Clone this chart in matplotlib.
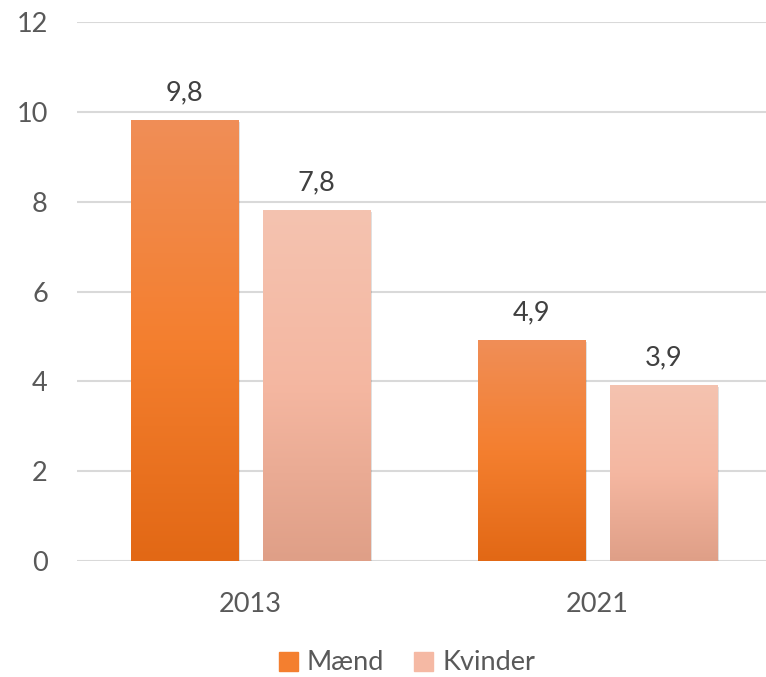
import matplotlib
matplotlib.use("Agg")
import matplotlib.pyplot as plt
import matplotlib.patheffects as pe
from matplotlib.colors import LinearSegmentedColormap
from matplotlib.patches import Rectangle
import numpy as np

categories = ["2013", "2021"]
series_names = ["Mænd", "Kvinder"]
maend = [9.8, 4.9]
kvinder = [7.8, 3.9]
labels_maend = ["9,8", "4,9"]
labels_kvinder = ["7,8", "3,9"]

plt.rcParams['font.family'] = ['Lato', 'DejaVu Sans']
FS = 19.5

fig = plt.figure(figsize=(7.66, 6.77), dpi=100)
ax = fig.add_axes([77/766, 1 - 561/677, 694/766, (561-22)/677])

cmap_m = LinearSegmentedColormap.from_list("m", ["#E26815", "#F47F2F", "#F08E57"])
cmap_k = LinearSegmentedColormap.from_list("k", ["#DF9F87", "#F5B7A1", "#F4C3B0"])
grad = np.linspace(0, 1, 256).reshape(-1, 1)

x = np.arange(len(categories))
width = 0.31
offset = 0.19

ax.set_xlim(-0.5, len(categories) - 0.5)
ax.set_ylim(0, 12)
ax.set_yticks(np.arange(0, 13, 2))
ax.yaxis.grid(True, color="#D9D9D9", linewidth=1.5)
ax.set_axisbelow(True)
for s in ax.spines.values():
    s.set_visible(False)
ax.axhline(0, color="#D9D9D9", linewidth=1.8, zorder=1)
ax.tick_params(axis="both", length=0, labelsize=FS, colors="#595959")
ax.tick_params(axis="y", pad=21)
ax.tick_params(axis="x", pad=22)
ax.set_xticks(x)
ax.set_xticklabels(categories)

def draw(vals, labs, pos, cmap, name):
    bars = ax.bar(pos, vals, width, color=cmap(0.5), label=name, zorder=2,
                  path_effects=[pe.SimplePatchShadow(offset=(1.5, -1), shadow_rgbFace="#000000", alpha=0.12),
                                pe.Normal()])
    for b, lab in zip(bars, labs):
        x0, y0 = b.get_x(), b.get_y()
        w, h = b.get_width(), b.get_height()
        ax.imshow(grad, cmap=cmap, extent=(x0, x0 + w, y0, y0 + h), origin="lower",
                  aspect="auto", zorder=3, interpolation="bilinear")
        ax.annotate(lab, (x0 + w / 2, y0 + h), xytext=(0, 11), textcoords="offset points",
                    ha="center", va="bottom", fontsize=FS, color="#404040")
    return bars

draw(maend, labels_maend, x - offset, cmap_m, series_names[0])
draw(kvinder, labels_kvinder, x + offset, cmap_k, series_names[1])
ax.set_xlim(-0.5, len(categories) - 0.5)
ax.set_ylim(0, 12)
ax.set_aspect("auto")

handles = [Rectangle((0, 0), 1, 1, color=cmap_m(0.5)), Rectangle((0, 0), 1, 1, color=cmap_k(0.6))]
leg = fig.legend(handles, series_names, loc="center", bbox_to_anchor=(407/766, 1 - 663/677),
                 ncol=2, frameon=False, fontsize=FS, handlelength=0.7, handleheight=0.7,
                 handletextpad=0.35, columnspacing=1.1, labelcolor="#595959")

fig.savefig("out.png", dpi=100)
